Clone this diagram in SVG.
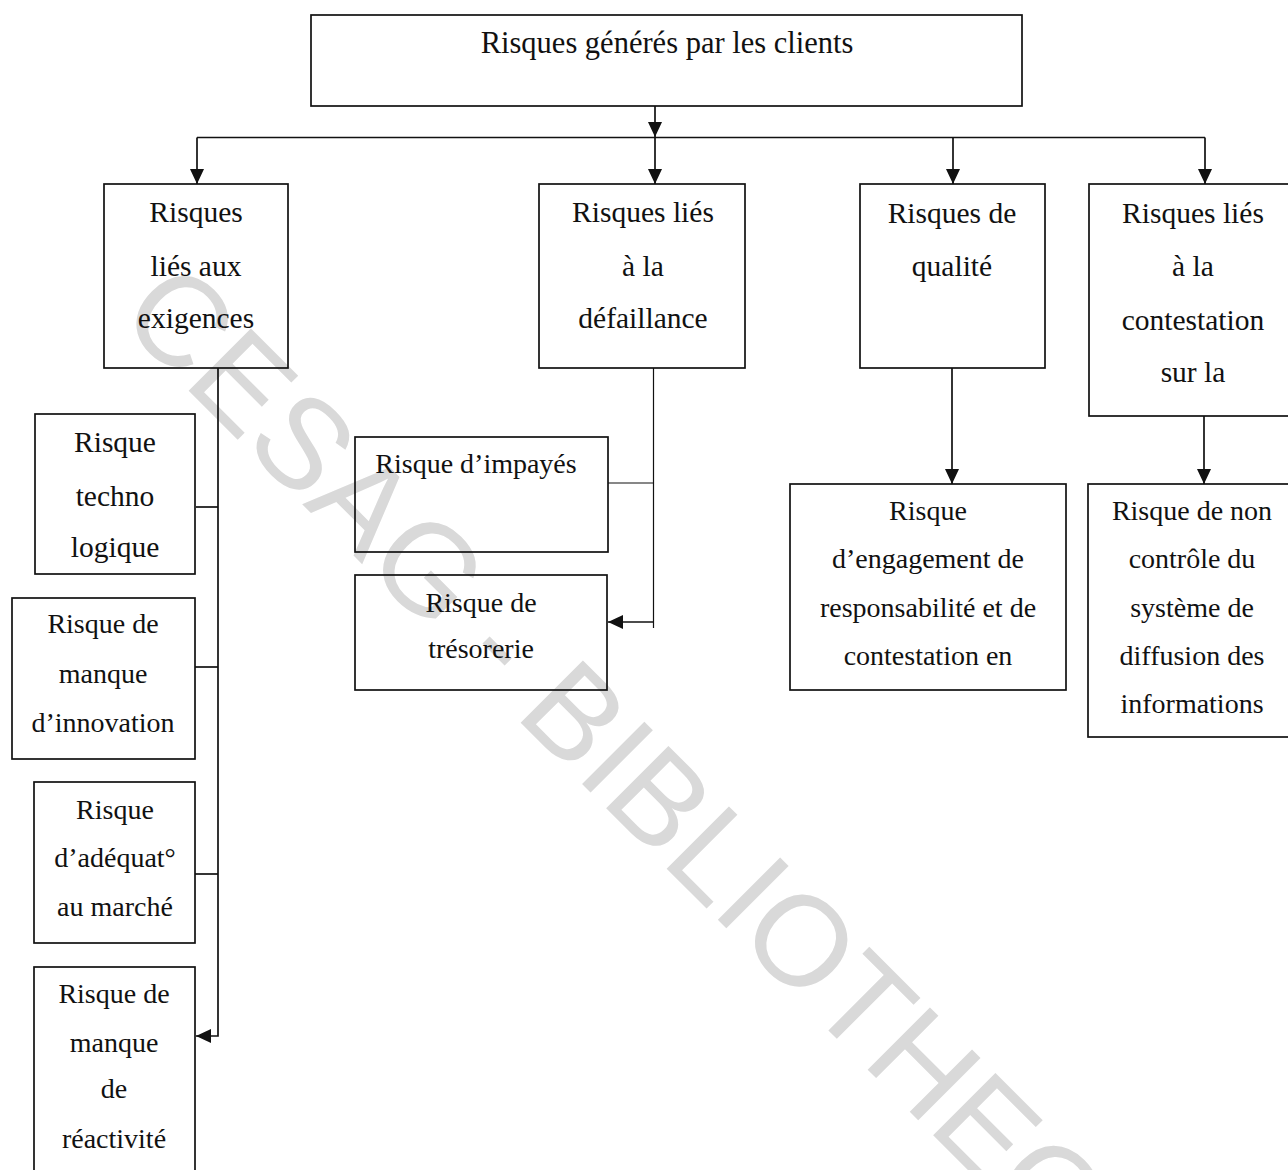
<svg xmlns="http://www.w3.org/2000/svg" width="1288" height="1170" viewBox="0 0 1288 1170">
  <style>
    .box { fill: none; stroke: #111111; stroke-width: 1.7; }
    .lbl { font-family: "Liberation Serif", "Times New Roman", serif; font-size: 28px; fill: #111111; text-anchor: middle; }
    .lbl-lg { font-size: 29.5px; }
    .title { font-size: 30.5px; }
    .wire { fill: none; stroke: #111111; stroke-width: 1.7; }
    .wire-thin { fill: none; stroke: #111111; stroke-width: 1.2; }
    .mark { font-family: "Liberation Sans", Arial, sans-serif; font-size: 128px; fill: #d9d9d9; }
  </style>
  <defs>
    <marker id="arrow" markerUnits="userSpaceOnUse" markerWidth="16" markerHeight="14" refX="15" refY="7" orient="auto">
      <path d="M0,0 L15,7 L0,14 z" fill="#111111"/>
    </marker>
  </defs>

  <rect width="1288" height="1170" fill="#ffffff"/>

  <!-- diagonal library stamp behind the chart -->
  <text class="mark" transform="translate(116,318) rotate(45)">CESAG - BIBLIOTHEQUE</text>

  <!-- connectors -->
  <g id="connectors">
    <path class="wire" d="M655,106 V137" marker-end="url(#arrow)"/>
    <path class="wire" d="M197,137.5 H1205"/>
    <path class="wire" d="M197,137.5 V184" marker-end="url(#arrow)"/>
    <path class="wire" d="M655,137.5 V184" marker-end="url(#arrow)"/>
    <path class="wire" d="M953,137.5 V184" marker-end="url(#arrow)"/>
    <path class="wire" d="M1205,137.5 V184" marker-end="url(#arrow)"/>

    <!-- exigences branch -->
    <path class="wire" d="M218,368 V1036 H196" marker-end="url(#arrow)"/>
    <path class="wire" d="M196,507 H218"/>
    <path class="wire" d="M195,667 H218"/>
    <path class="wire" d="M195,874 H218"/>

    <!-- défaillance branch -->
    <path class="wire-thin" d="M653.5,368 V628"/>
    <path class="wire-thin" d="M608,483 H653.5"/>
    <path class="wire" d="M653.5,622 H608" marker-end="url(#arrow)"/>

    <!-- qualité and contestation branches -->
    <path class="wire" d="M952,368 V484" marker-end="url(#arrow)"/>
    <path class="wire" d="M1204,416 V484" marker-end="url(#arrow)"/>
  </g>

  <g id="root">
    <rect class="box" x="311" y="15" width="711" height="91"/>
    <text class="lbl title" x="667" y="53">Risques générés par les clients</text>
  </g>

  <g id="exigences">
    <rect class="box" x="104" y="184" width="184" height="184"/>
    <text class="lbl lbl-lg" x="196" y="222">Risques</text>
    <text class="lbl lbl-lg" x="196" y="276">liés aux</text>
    <text class="lbl lbl-lg" x="196" y="328">exigences</text>
  </g>

  <g id="defaillance">
    <rect class="box" x="539" y="184" width="206" height="184"/>
    <text class="lbl lbl-lg" x="643" y="222">Risques liés</text>
    <text class="lbl lbl-lg" x="643" y="276">à la</text>
    <text class="lbl lbl-lg" x="643" y="328">défaillance</text>
  </g>

  <g id="qualite">
    <rect class="box" x="860" y="184" width="185" height="184"/>
    <text class="lbl lbl-lg" x="952" y="223">Risques de</text>
    <text class="lbl lbl-lg" x="952" y="276">qualité</text>
  </g>

  <g id="contestation">
    <rect class="box" x="1089" y="184" width="210" height="232"/>
    <text class="lbl lbl-lg" x="1193" y="223">Risques liés</text>
    <text class="lbl lbl-lg" x="1193" y="276">à la</text>
    <text class="lbl lbl-lg" x="1193" y="330">contestation</text>
    <text class="lbl lbl-lg" x="1193" y="382">sur la</text>
  </g>

  <g id="technologique">
    <rect class="box" x="35" y="414" width="160" height="160"/>
    <text class="lbl lbl-lg" x="115" y="452">Risque</text>
    <text class="lbl lbl-lg" x="115" y="506">techno</text>
    <text class="lbl lbl-lg" x="115" y="557">logique</text>
  </g>

  <g id="innovation">
    <rect class="box" x="12" y="598" width="183" height="161"/>
    <text class="lbl" x="103" y="633">Risque de</text>
    <text class="lbl" x="103" y="683">manque</text>
    <text class="lbl" x="103" y="732">d’innovation</text>
  </g>

  <g id="adequation">
    <rect class="box" x="34" y="782" width="161" height="161"/>
    <text class="lbl" x="115" y="819">Risque</text>
    <text class="lbl" x="115" y="867">d’adéquat°</text>
    <text class="lbl" x="115" y="916">au marché</text>
  </g>

  <g id="reactivite">
    <rect class="box" x="34" y="967" width="161" height="220"/>
    <text class="lbl" x="114" y="1003">Risque de</text>
    <text class="lbl" x="114" y="1052">manque</text>
    <text class="lbl" x="114" y="1098">de</text>
    <text class="lbl" x="114" y="1148">réactivité</text>
  </g>

  <g id="impayes">
    <rect class="box" x="355" y="437" width="253" height="115"/>
    <text class="lbl" x="476" y="473">Risque d’impayés</text>
  </g>

  <g id="tresorerie">
    <rect class="box" x="355" y="575" width="252" height="115"/>
    <text class="lbl" x="481" y="612">Risque de</text>
    <text class="lbl" x="481" y="658">trésorerie</text>
  </g>

  <g id="engagement">
    <rect class="box" x="790" y="484" width="276" height="206"/>
    <text class="lbl" x="928" y="520">Risque</text>
    <text class="lbl" x="928" y="568">d’engagement de</text>
    <text class="lbl" x="928" y="617">responsabilité et de</text>
    <text class="lbl" x="928" y="665">contestation en</text>
  </g>

  <g id="diffusion">
    <rect class="box" x="1088" y="484" width="211" height="253"/>
    <text class="lbl" x="1192" y="520">Risque de non</text>
    <text class="lbl" x="1192" y="568">contrôle du</text>
    <text class="lbl" x="1192" y="617">système de</text>
    <text class="lbl" x="1192" y="665">diffusion des</text>
    <text class="lbl" x="1192" y="713">informations</text>
  </g>
</svg>
